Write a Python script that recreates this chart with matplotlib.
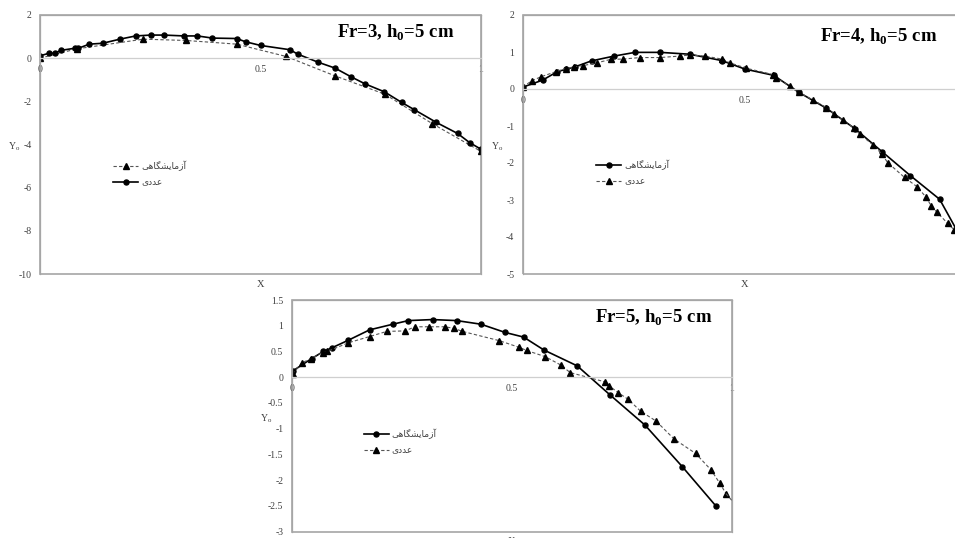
import matplotlib
matplotlib.use("Agg")
import matplotlib.pyplot as plt
from matplotlib.patches import Rectangle

plt.rcParams["mathtext.fontset"] = "custom"
plt.rcParams["mathtext.bf"] = "Liberation Serif:bold"
plt.rcParams["mathtext.rm"] = "Liberation Serif"

# Persian legend labels, pre-shaped into presentation forms (visual order)
LAB_EXP = "\uFBFD\uFEEB\uFE8E\uFB95\uFEB8\uFBFE\uFE8E\uFEE3\uFEAF\uFE81"   # آزمایشگاهی
LAB_NUM = "\uFBFC\uFEA9\uFEAA\uFECB"                                      # عددی

# ---- Fr = 3 ----
fr3_num_x = [0.0, 0.021, 0.034, 0.047, 0.079, 0.087, 0.112, 0.142, 0.181, 0.217, 0.251,
             0.281, 0.327, 0.357, 0.391, 0.446, 0.466, 0.500, 0.567, 0.584, 0.631, 0.669,
             0.705, 0.737, 0.781, 0.820, 0.849, 0.899, 0.947, 0.974, 1.0]
fr3_num_y = [0.11, 0.23, 0.23, 0.36, 0.46, 0.46, 0.65, 0.69, 0.88, 1.03, 1.07,
             1.07, 1.03, 1.03, 0.93, 0.91, 0.76, 0.59, 0.39, 0.19, -0.19, -0.46,
             -0.86, -1.19, -1.56, -2.05, -2.39, -2.98, -3.49, -3.91, -4.22]
fr3_exp_x = [0.0, 0.083, 0.234, 0.331, 0.446, 0.558, 0.669, 0.782, 0.890, 1.0]
fr3_exp_y = [0.0, 0.43, 0.88, 0.82, 0.65, 0.08, -0.82, -1.67, -3.04, -4.32]

# ---- Fr = 4 ----
fr4_exp_x = [0.0, 0.045, 0.078, 0.097, 0.118, 0.155, 0.206, 0.253, 0.310, 0.376, 0.448,
             0.500, 0.565, 0.622, 0.684, 0.749, 0.809, 0.873, 0.939, 1.0]
fr4_exp_y = [0.05, 0.24, 0.47, 0.53, 0.60, 0.76, 0.89, 0.99, 0.99, 0.94, 0.77,
             0.54, 0.37, -0.09, -0.52, -1.08, -1.69, -2.34, -2.98, -4.30]
fr4_num_x = [0.0, 0.020, 0.041, 0.075, 0.097, 0.116, 0.135, 0.168, 0.198, 0.226, 0.265,
             0.309, 0.354, 0.376, 0.410, 0.448, 0.466, 0.504, 0.564, 0.571, 0.601, 0.622,
             0.654, 0.684, 0.702, 0.721, 0.747, 0.759, 0.789, 0.809, 0.822, 0.860, 0.888,
             0.909, 0.920, 0.933, 0.957, 0.972, 0.990]
fr4_num_y = [0.05, 0.22, 0.33, 0.47, 0.55, 0.60, 0.63, 0.71, 0.80, 0.81, 0.85,
             0.85, 0.89, 0.92, 0.89, 0.81, 0.71, 0.56, 0.39, 0.30, 0.08, -0.09,
             -0.30, -0.50, -0.68, -0.84, -1.06, -1.22, -1.51, -1.76, -1.99, -2.39, -2.64,
             -2.93, -3.16, -3.33, -3.63, -3.81, -3.95]

# ---- Fr = 5 ----
fr5_exp_x = [0.002, 0.045, 0.072, 0.091, 0.129, 0.177, 0.230, 0.265, 0.320, 0.375, 0.430,
             0.485, 0.527, 0.573, 0.649, 0.723, 0.803, 0.888, 0.964]
fr5_exp_y = [0.12, 0.36, 0.50, 0.57, 0.72, 0.92, 1.03, 1.10, 1.12, 1.10, 1.03,
             0.87, 0.78, 0.53, 0.22, -0.34, -0.93, -1.74, -2.50]
fr5_num_x = [0.002, 0.023, 0.044, 0.070, 0.081, 0.129, 0.177, 0.216, 0.258, 0.280, 0.312,
             0.348, 0.369, 0.388, 0.472, 0.517, 0.534, 0.576, 0.611, 0.633, 0.712, 0.722,
             0.742, 0.765, 0.793, 0.828, 0.869, 0.918, 0.953, 0.973, 0.987]
fr5_num_y = [0.06, 0.28, 0.36, 0.48, 0.50, 0.67, 0.79, 0.89, 0.90, 0.98, 0.98,
             0.98, 0.95, 0.89, 0.71, 0.58, 0.52, 0.40, 0.24, 0.09, -0.09, -0.17,
             -0.30, -0.43, -0.66, -0.85, -1.20, -1.48, -1.80, -2.06, -2.26]
fr5_num_end = (1.0, -2.39)

SERIF = "Liberation Serif"
FRAME = "#a6a6a6"
ZERO = "#cfcfcf"
TXT = "#404040"

W, H = 955, 538
fig = plt.figure(figsize=(W / 100, H / 100), dpi=100)


def solid(ax, x, y, label):
    return ax.plot(x, y, color="black", lw=1.2, marker="o", ms=3.6,
                   mfc="black", mec="black", label=label)[0]


def dashed(ax, x, y, label):
    return ax.plot(x, y, color="#555555", lw=0.8, ls=(0, (3, 2)), marker="^", ms=3.8,
                   mfc="black", mec="black", label=label)[0]


def style(ax, ylim, yticks, title, leg_xy):
    ax.set_xlim(0, 1)
    ax.set_ylim(*ylim)
    ax.set_yticks(yticks)
    ax.set_yticklabels([("%g" % v) for v in yticks])
    ax.set_xticks([0, 0.5, 1])
    ax.set_xticklabels(["0", "0.5", "1"])
    for s in ("top", "left", "right"):
        ax.spines[s].set_color(FRAME)
        ax.spines[s].set_linewidth(0.9)
    ax.spines["bottom"].set_position(("data", 0))
    ax.spines["bottom"].set_color(ZERO)
    ax.spines["bottom"].set_linewidth(0.9)
    ax.add_patch(Rectangle((0, 0), 1, 1, transform=ax.transAxes, fill=False,
                           edgecolor=FRAME, lw=1.2, clip_on=False, zorder=0))
    ax.tick_params(axis="both", length=0, labelsize=7, labelcolor=TXT)
    ax.tick_params(axis="y", pad=6)
    ax.tick_params(axis="x", pad=5)
    for lab in ax.get_xticklabels() + ax.get_yticklabels():
        lab.set_fontfamily(SERIF)
    ax.text(-0.044, 0.49, r"Y$_\mathrm{o}$", transform=ax.transAxes, ha="right",
            va="center", fontsize=7, family=SERIF, color=TXT)
    ax.text(0.5, -0.025, "X", transform=ax.transAxes, ha="center", va="top",
            fontsize=7.5, family=SERIF, color=TXT)
    ax.text(title[1], title[2], title[0], transform=ax.transAxes, ha="right",
            va="center", fontsize=13.5, family=SERIF, weight="bold")
    leg = ax.legend(loc="upper left", bbox_to_anchor=leg_xy, frameon=False,
                    handlelength=2.8, handletextpad=0.3,
                    labelspacing=0.75, borderpad=0, borderaxespad=0, numpoints=1,
                    prop={"family": ["DejaVu Sans"], "size": 6.5})
    for t in leg.get_texts():
        t.set_color(TXT)


# Panel 1
ax1 = fig.add_axes([40 / W, 1 - 274 / H, 441 / W, 259 / H])
dashed(ax1, fr3_exp_x, fr3_exp_y, LAB_EXP)
solid(ax1, fr3_num_x, fr3_num_y, LAB_NUM)
style(ax1, (-10, 2), [-10, -8, -6, -4, -2, 0, 2],
      (r"Fr=3, h$_\mathbf{0}$=5 cm", 0.939, 0.93), (0.1655, 0.436))

# Panel 2 (its frame runs past the right edge of the figure)
ax2 = fig.add_axes([522.7 / W, 1 - 274 / H, 444 / W, 259 / H])
solid(ax2, fr4_exp_x, fr4_exp_y, LAB_EXP)
dashed(ax2, fr4_num_x, fr4_num_y, LAB_NUM)
style(ax2, (-5, 2), [-5, -4, -3, -2, -1, 0, 1, 2],
      (r"Fr=4, h$_\mathbf{0}$=5 cm", 0.933, 0.915), (0.165, 0.44))

# Panel 3
ax3 = fig.add_axes([291.7 / W, 1 - 531.7 / H, 440 / W, 231.7 / H])
solid(ax3, fr5_exp_x, fr5_exp_y, LAB_EXP)
dashed(ax3, fr5_num_x, fr5_num_y, LAB_NUM)
ax3.plot([fr5_num_x[-1], fr5_num_end[0]], [fr5_num_y[-1], fr5_num_end[1]],
         color="#555555", lw=0.8, ls=(0, (3, 2)))
style(ax3, (-3, 1.5), [-3, -2.5, -2, -1.5, -1, -0.5, 0, 0.5, 1, 1.5],
      (r"Fr=5, h$_\mathbf{0}$=5 cm", 0.957, 0.922), (0.164, 0.443))

fig.savefig("out.png", dpi=100, facecolor="white")
